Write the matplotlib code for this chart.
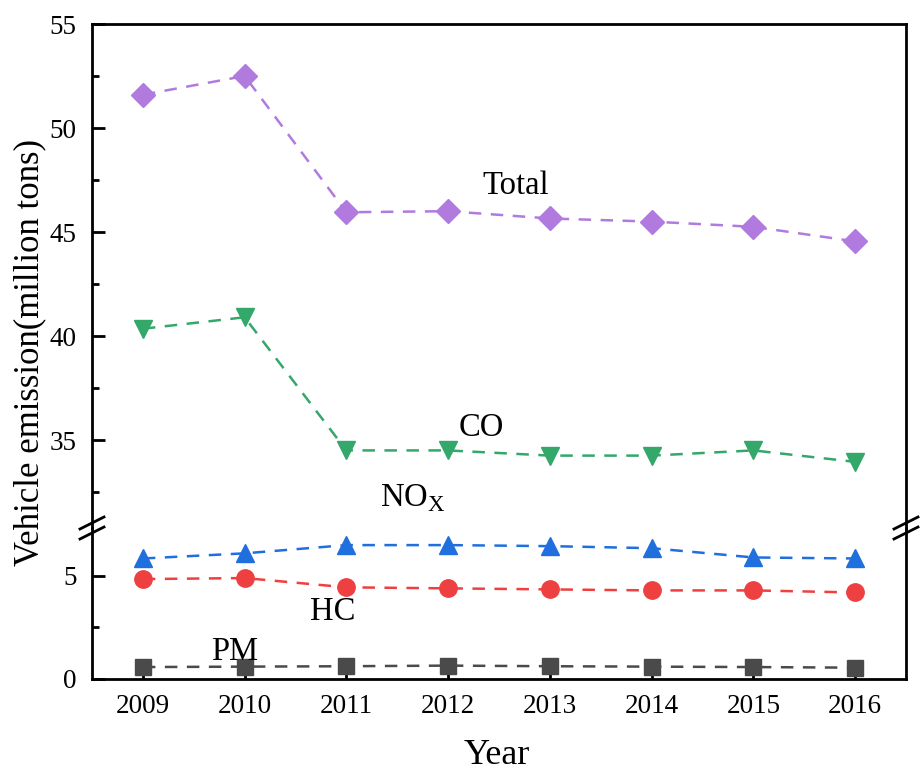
import matplotlib.pyplot as plt
import matplotlib.lines as mlines

plt.rcParams['font.family'] = ['Liberation Serif', 'DejaVu Serif']

years = [2009, 2010, 2011, 2012, 2013, 2014, 2015, 2016]
total = [51.6, 52.5, 45.95, 46.0, 45.65, 45.5, 45.25, 44.55]
co = [40.35, 40.9, 34.5, 34.5, 34.25, 34.25, 34.5, 33.95]
nox = [5.85, 6.1, 6.5, 6.5, 6.45, 6.35, 5.9, 5.85]
hc = [4.85, 4.9, 4.45, 4.4, 4.35, 4.3, 4.3, 4.2]
pm = [0.58, 0.6, 0.62, 0.65, 0.62, 0.6, 0.58, 0.55]

W, H = 921, 772
L, R, T, B, BRK = 92, 906, 24, 679, 528

fig = plt.figure(figsize=(W / 100, H / 100), dpi=100)
ax_top = fig.add_axes([L / W, 1 - BRK / H, (R - L) / W, (BRK - T) / H])
ax_bot = fig.add_axes([L / W, 1 - B / H, (R - L) / W, (B - BRK) / H], sharex=ax_top)

style = dict(ls='--', lw=1.8, dashes=(5, 3.8))
ax_top.plot(years, total, marker='D', color='#B07ADF', ms=12, **style)
ax_top.plot(years, co, marker='v', color='#33A86A', ms=13, **style)
ax_bot.plot(years, nox, marker='^', color='#1F6FDF', ms=13, **style)
ax_bot.plot(years, hc, marker='o', color='#EE4040', ms=12.5, **style)
ax_bot.plot(years, pm, marker='s', color='#4A4A4A', ms=11, **style)

ax_top.set_ylim(30.77, 55)
ax_bot.set_ylim(0, 7.33)
ax_bot.set_xlim(2008.5, 2016.5)

ax_top.set_yticks([35, 40, 45, 50, 55])
ax_top.set_yticks([32.5, 37.5, 42.5, 47.5, 52.5], minor=True)
ax_bot.set_yticks([0, 5])
ax_bot.set_yticks([2.5], minor=True)
ax_bot.set_xticks(years)

for ax in (ax_top, ax_bot):
    for s in ax.spines.values():
        s.set_linewidth(2)
    ax.tick_params(axis='both', which='major', direction='in', length=9, width=2,
                   labelsize=19.5, right=False, top=False, pad=11)
    ax.tick_params(axis='both', which='minor', direction='in', length=5, width=2,
                   right=False, top=False)
    ax.patch.set_alpha(0)

ax_top.spines['bottom'].set_visible(False)
ax_bot.spines['top'].set_visible(False)
ax_top.tick_params(axis='x', which='both', bottom=False, labelbottom=False)

# break marks
for xs in (L, R):
    for dy in (-5, 5):
        y0 = BRK + dy
        fig.add_artist(mlines.Line2D([(xs - 12) / W, (xs + 12) / W],
                                     [1 - (y0 + 6) / H, 1 - (y0 - 6) / H],
                                     color='black', lw=2))

fs = 23.5
ax_top.text(2012.66, 47.2, 'Total', fontsize=fs, ha='center', va='center')
ax_top.text(2012.33, 35.58, 'CO', fontsize=fs, ha='center', va='center')
ax_bot.text(2011.65, 8.4, r'NO$_\mathregular{X}$', fontsize=fs, ha='center', va='baseline',
            clip_on=False)
ax_bot.text(2010.87, 3.25, 'HC', fontsize=fs, ha='center', va='center')
ax_bot.text(2009.9, 1.31, 'PM', fontsize=fs, ha='center', va='center')

fig.text(30 / W, 1 - 352 / H, 'Vehicle emission(million tons)', rotation=90,
         fontsize=25, ha='center', va='center')
fig.text(497 / W, 1 - 755 / H, 'Year', fontsize=26, ha='center', va='center')

fig.savefig('out.png', dpi=100)
